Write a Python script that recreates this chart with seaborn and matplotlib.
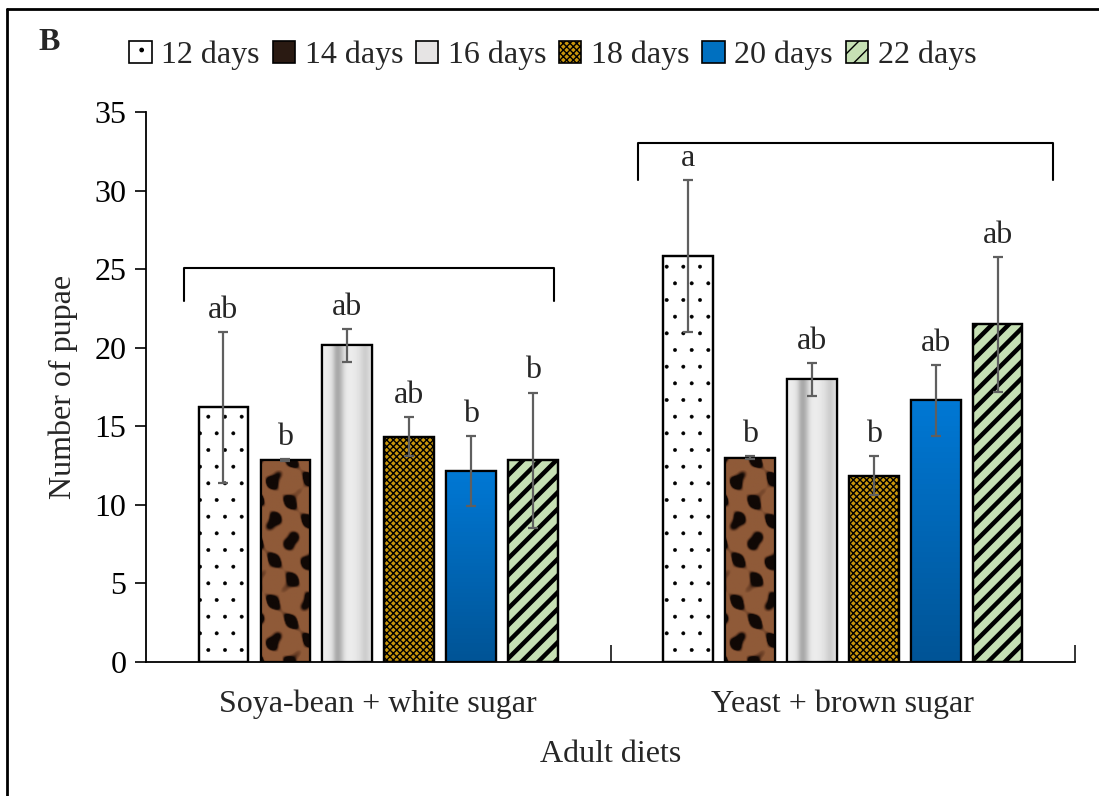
import numpy as np
import pandas as pd
import matplotlib.pyplot as plt
import seaborn as sns
from matplotlib.patches import Patch, Rectangle
from matplotlib.lines import Line2D
from matplotlib.colors import LinearSegmentedColormap

# data
diets = ['Soya-bean + white sugar', 'Yeast + brown sugar']
days = ['12 days', '14 days', '16 days', '18 days', '20 days', '22 days']
soya_mean = [16.2, 12.85, 20.15, 14.35, 12.15, 12.85]
soya_err = [4.8, 0.08, 1.05, 1.25, 2.25, 4.3]
yeast_mean = [25.85, 13.0, 18.0, 11.85, 16.65, 21.5]
yeast_err = [4.85, 0.08, 1.05, 1.25, 2.25, 4.3]
soya_letters = ['ab', 'b', 'ab', 'ab', 'b', 'b']
yeast_letters = ['a', 'b', 'ab', 'b', 'ab', 'ab']

# bracket over each group: x from, x to, end height, top height
bracket_x = [(-0.418, 0.378), (0.559, 1.453)]
bracket_y = [(23.0, 25.1), (30.7, 33.0)]

face = ['white', '#7b4a2e', '#ebe8e8', '#c9960c', '#0072c6', '#c6e0b4']
hatches = ['.', None, None, 'xxxxx', None, '//']
legend_face = ['white', '#2a1a12', '#e6e4e4', '#c9960c', '#0070c0', '#c6e0b4']

df = pd.DataFrame({
    'diet': np.repeat(diets, len(days)),
    'days': days * 2,
    'pupae': soya_mean + yeast_mean,
    'err': soya_err + yeast_err,
    'letter': soya_letters + yeast_letters,
})

FS = 23
sns.set_style("white")
plt.rcParams['font.family'] = ['Liberation Serif', 'DejaVu Serif']
plt.rcParams['hatch.linewidth'] = 1.0

fig = plt.figure(figsize=(10.99, 7.96), dpi=100)
ax = fig.add_axes([0.1328, 0.1683, 0.8455, 0.691])

sns.barplot(data=df, x='diet', y='pupae', hue='days', order=diets, hue_order=days,
            palette=face, gap=0.2, width=0.8, errorbar=None,
            edgecolor='black', linewidth=1.6, legend=False, ax=ax)

ax.set_xlim(-0.5, 1.5)
ax.set_ylim(0, 35)
px_x = 0.8455 * 1099 / 2.0   # pixels per x unit
px_y = 0.691 * 796 / 35.0    # pixels per y unit

spot_cm = LinearSegmentedColormap.from_list('leo', ['#8f5a38', '#6b3f26', '#100805'])
blue_cm = LinearSegmentedColormap.from_list('b', ['#0078d4', '#005496'])

bar_groups = list(ax.containers)
for i, cont in enumerate(bar_groups):
    sub = df[df['days'] == days[i]]
    for j, bar in enumerate(cont):
        bar.set_facecolor(face[i])
        bar.set_edgecolor('black')
        if hatches[i]:
            bar.set_hatch(hatches[i])
            lw_h = {0: 0.35, 5: 3.2}.get(i)
            if lw_h:
                try:
                    bar.set_hatch_linewidth(lw_h)
                except AttributeError:
                    pass
        x0, y0 = bar.get_x(), bar.get_y()
        w, h = bar.get_width(), bar.get_height()
        if i == 1:
            # brown with dark spots (leopard-like fill)
            nx, ny = int(w * px_x), int(h * px_y)
            X, Y = np.meshgrid(np.arange(nx), np.arange(ny))
            z = (np.cos(2 * np.pi * X / 34.0 + 0.9) * np.cos(2 * np.pi * Y / 40.0)
                 + 0.25 * np.cos(2 * np.pi * (X + Y) / 23.0))
            tex = np.clip((z - 0.15) * 3, 0, 1)
            im = ax.imshow(tex, cmap=spot_cm, vmin=0, vmax=1, aspect='auto',
                           extent=[x0, x0 + w, y0, y0 + h], origin='lower',
                           interpolation='bilinear', zorder=bar.get_zorder())
            im.set_clip_path(bar)
        if i == 2:
            # light silver with a grey vertical band
            prof = np.array([[0.93, 0.92, 0.88, 0.62, 0.70, 0.90, 0.93, 0.92, 0.90, 0.85, 0.78, 0.88]])
            im = ax.imshow(prof, cmap='gray', vmin=0, vmax=1, aspect='auto',
                           extent=[x0, x0 + w, y0, y0 + h], interpolation='bicubic',
                           zorder=bar.get_zorder())
            im.set_clip_path(bar)
        if i == 4:
            # blue getting darker towards the base
            grad = np.linspace(0, 1, 50).reshape(-1, 1)
            im = ax.imshow(grad, cmap=blue_cm, aspect='auto', origin='upper',
                           extent=[x0, x0 + w, y0, y0 + h], zorder=bar.get_zorder())
            im.set_clip_path(bar)
        xc = x0 + w / 2
        m = sub['pupae'].iloc[j]
        e = sub['err'].iloc[j]
        ax.errorbar(xc, m, yerr=e, color='#5f5f5f', elinewidth=1.6, capsize=3.5,
                    capthick=1.6, zorder=5)
        ax.text(xc, m + e + 0.45, sub['letter'].iloc[j], ha='center', va='bottom',
                fontsize=FS, zorder=6)
        # outline on top of the fill images
        ax.add_patch(Rectangle((x0, y0), w, h, fill=False, edgecolor='black',
                               linewidth=1.6, zorder=4))

for (xa, xb), (ye, yt) in zip(bracket_x, bracket_y):
    ax.plot([xa, xa, xb, xb], [ye, yt, yt, ye], color='black', lw=1.5,
            clip_on=False, zorder=6)

ax.set_yticks(range(0, 36, 5))
ax.tick_params(axis='y', direction='out', length=8, width=1.2, left=True,
               labelsize=FS, pad=6, colors='black')
ax.tick_params(axis='x', which='major', length=0, labelsize=FS, pad=20)
ax.set_xticks([0.5, 1.5], minor=True)
ax.tick_params(axis='x', which='minor', direction='in', length=12, width=1.3,
               bottom=True)
for s in ['top', 'right']:
    ax.spines[s].set_visible(False)
for s in ['left', 'bottom']:
    ax.spines[s].set_color('black')
    ax.spines[s].set_linewidth(1.3)

ax.set_xlabel('Adult diets', fontsize=FS, labelpad=15)
ax.set_ylabel('Number of pupae', fontsize=FS, labelpad=12)

handles = []
for i in range(len(days)):
    handles.append(Patch(facecolor=legend_face[i], edgecolor='black', linewidth=1.2,
                         hatch=hatches[i] if i in (0, 3, 5) else None, label=days[i]))
fig.legend(handles=handles, loc='center', bbox_to_anchor=(0.503, 0.93), ncol=6,
           frameon=False, fontsize=FS, handlelength=0.7, handleheight=0.7,
           handletextpad=0.3, columnspacing=0.4, borderaxespad=0)

fig.text(0.035, 0.947, 'B', fontsize=FS, fontweight='bold', va='center', ha='left')

# outer frame (open at right and bottom like the cropped panel)
fig.add_artist(Line2D([0.0064, 0.0064], [0.0, 0.989], transform=fig.transFigure,
                      color='black', lw=2))
fig.add_artist(Line2D([0.0064, 1.0], [0.989, 0.989], transform=fig.transFigure,
                      color='black', lw=2))

fig.savefig('out.png', dpi=100)
